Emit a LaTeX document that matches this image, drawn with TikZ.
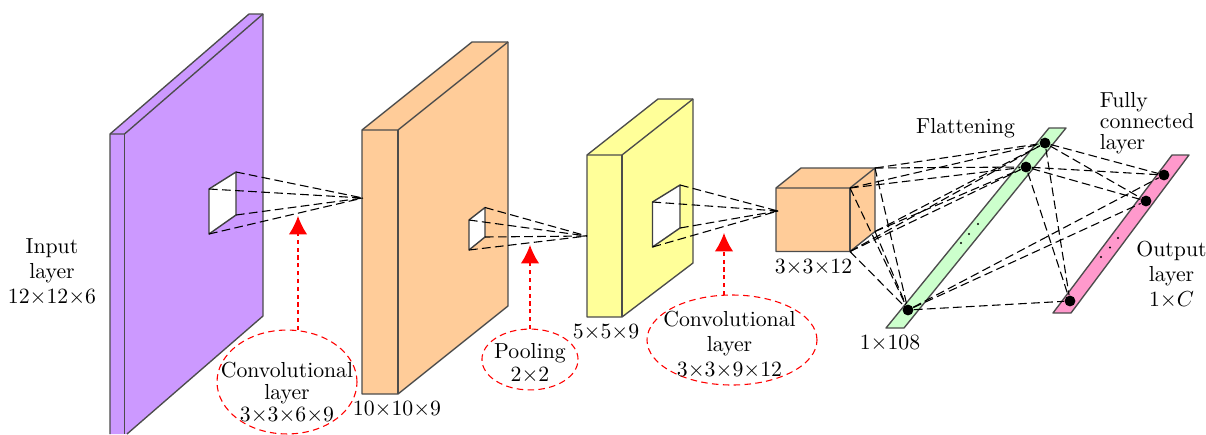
\documentclass[tikz,border=0pt]{standalone}
\usetikzlibrary{arrows.meta,shapes.geometric}
\definecolor{cpurple}{RGB}{204,153,255}
\definecolor{corange}{RGB}{255,204,153}
\definecolor{cyellow}{RGB}{255,255,153}
\definecolor{cgreen}{RGB}{204,255,204}
\definecolor{cpink}{RGB}{255,153,204}
\newcommand{\tm}{{\times}}
\tikzset{
  x=0.46pt,y=-0.46pt,
  face/.style={draw=black!70,line width=0.62pt,line join=round},
  hole/.style={draw=black!75,fill=white,line width=0.65pt,line join=round},
  link/.style={draw=black,dash pattern=on 4pt off 2pt,line width=0.5pt},
  redarrow/.style={draw=red,line width=0.6pt,dash pattern=on 1.9pt off 1.7pt,-{Latex[length=8.5pt,width=8.5pt,fill=red]}},
  redring/.style={draw=red,shape=ellipse,line width=0.5pt,dash pattern=on 3pt off 2pt,inner sep=0pt},
  lab/.style={align=center,inner sep=0pt,font=\fontsize{10}{#1}\selectfont},
  lab/.default=11.4,
  bigdot/.style={circle,fill=black,inner sep=0pt,minimum size=5pt},
  tinydot/.style={circle,fill=black,inner sep=0pt,minimum size=1pt}
}
\begin{document}
\begin{tikzpicture}
\useasboundingbox (0,0) rectangle (1206,434);
% purple block
\fill[cpurple] (110,134) -- (249,14) -- (263,14) -- (263,316) -- (127,434) -- (110,434) -- cycle;
\draw[face] (110,434) -- (110,134) -- (249,14) -- (263,14) -- (263,316) -- (127,434);
\draw[face] (110,134) -- (124.5,134) -- (263,14);
\draw[face] (124.5,134) -- (124.5,434);
\coordinate (w1a) at (209,189); \coordinate (w1b) at (236,172);
\coordinate (w1c) at (236,215); \coordinate (w1d) at (209,234);
\draw[hole] (w1a) -- (w1b) -- (w1c) -- (w1d) -- cycle;
% orange block
\draw[face,fill=corange] (362,130) -- (472,42) -- (508,42) -- (508,306) -- (398,394) -- (362,394) -- cycle;
\draw[face] (362,130) -- (398,130) -- (508,42);
\draw[face] (398,130) -- (398,394);
\coordinate (a1) at (363,198);
\coordinate (w2a) at (469,220); \coordinate (w2b) at (485,207.5);
\coordinate (w2c) at (485,237); \coordinate (w2d) at (469,250);
\draw[hole] (w2a) -- (w2b) -- (w2c) -- (w2d) -- cycle;
% yellow block
\draw[face,fill=cyellow] (587,155) -- (658,99) -- (693,99) -- (693,263) -- (622,317) -- (587,317) -- cycle;
\draw[face] (587,155) -- (622,155) -- (693,99);
\draw[face] (622,155) -- (622,317);
\coordinate (a2) at (587,236);
\coordinate (w3a) at (652.5,202); \coordinate (w3b) at (680,185);
\coordinate (w3c) at (680,228); \coordinate (w3d) at (652.5,247);
\draw[hole] (w3a) -- (w3b) -- (w3c) -- (w3d) -- cycle;
% cube
\draw[face,fill=corange] (776,188) -- (801,168) -- (875,168) -- (875,231.5) -- (850,251.5) -- (776,251.5) -- cycle;
\draw[face] (776,188) -- (850,188) -- (875,168);
\draw[face] (850,188) -- (850,251.5);
\coordinate (a3) at (778,211);
\coordinate (c1) at (875,168); \coordinate (c2) at (850,188);
\coordinate (c3) at (850,251.5); \coordinate (c4) at (875,231.5);
% bars
\draw[face,fill=cgreen] (886,328) -- (904,328) -- (1066,128) -- (1049,128) -- cycle;
\draw[face,fill=cpink] (1053,313) -- (1071,313) -- (1189,155) -- (1172,155) -- cycle;
\node[bigdot] (g1) at (1045,143) {};
\node[bigdot] (g2) at (1026,167) {};
\node[bigdot] (g3) at (908,310) {};
\node[bigdot] (p1) at (1164,175) {};
\node[bigdot] (p2) at (1146,201) {};
\node[bigdot] (p3) at (1070,301) {};
\node[tinydot] (gs1) at (961,243) {};
\node[tinydot] (gs2) at (969,234) {};
\node[tinydot] (gs3) at (978,224) {};
\node[tinydot] (ps1) at (1101,257) {};
\node[tinydot] (ps2) at (1110,247.5) {};
\node[tinydot] (ps3) at (1118,238) {};
% connectors
\foreach \w/\t in {w1/a1,w2/a2,w3/a3}
  \foreach \k in {a,b,c,d}
    \draw[link] (\w\k) -- (\t);
\foreach \c in {c1,c2,c3,c4}
  \foreach \g in {g1,g2,g3}
    \draw[link] (\c) -- (\g);
\foreach \g in {g1,g2,g3}
  \foreach \p in {p1,p2,p3}
    \draw[link] (\g) -- (\p);
% red annotations
\node[redring,minimum width=64.4pt,minimum height=47.8pt] (r1) at (287,382) {};
\node[redring,minimum width=44.2pt,minimum height=28pt] (r2) at (530,359.5) {};
\node[redring,minimum width=78.2pt,minimum height=41.4pt] (r3) at (732,340) {};
\coordinate (t1) at (298,216); \coordinate (t2) at (530,245); \coordinate (t3) at (724,233);
\coordinate (b1) at (298,330); \coordinate (b2) at (530,329); \coordinate (b3) at (724,295);
\draw[redarrow] (b1) -- (t1);
\draw[redarrow] (b2) -- (t2);
\draw[redarrow] (b3) -- (t3);
% labels
\node[lab=11.4] (tinput) at (52,272) {Input\\layer\\$12\tm12\tm6$};
\node[lab=10] (tr1) at (287,392.5) {Convolutional\\layer\\$3\tm3\tm6\tm9$};
\node[lab=10.6] (tr2) at (530,363) {Pooling\\$2\tm2$};
\node[lab=11.4] (tr3) at (729.5,345) {Convolutional\\layer\\$3\tm3\tm9\tm12$};
\node[lab] (t10) at (397,409) {$10\tm10\tm9$};
\node[lab] (t5) at (606,332) {$5\tm5\tm9$};
\node[lab] (t3x) at (813.5,267) {$3\tm3\tm12$};
\node[lab] (t108) at (890,343) {$1\tm108$};
\node[lab] (tflat) at (965.5,128) {Flattening};
\node[lab=9.6,align=left] (tfc) at (1147,123) {Fully\\connected\\layer};
\node[lab=11.4] (tout) at (1171.5,275) {Output\\layer\\$1\tm C$};
\end{tikzpicture}
\end{document}
